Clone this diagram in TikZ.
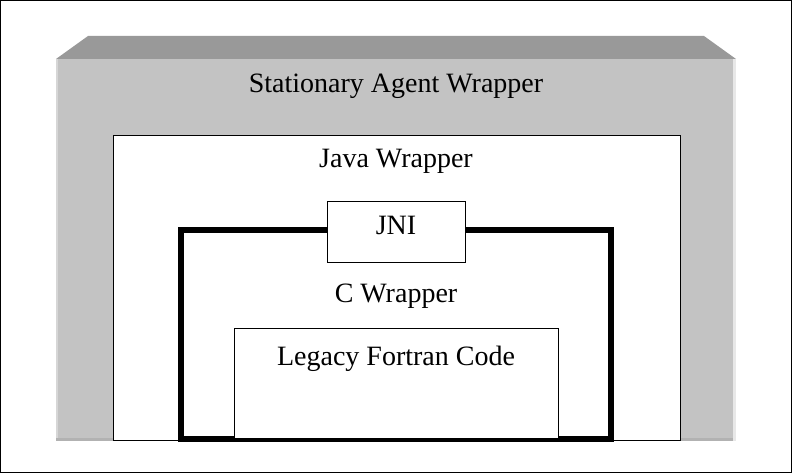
\documentclass[tikz,border=0pt]{standalone}
\usepackage{fontspec}
\setmainfont{Liberation Serif}
\begin{document}
\begin{tikzpicture}[x=1pt,y=-1pt,
  box/.style={draw=black,fill=white,line width=1pt,inner sep=0pt,outer sep=0pt},
  lbl/.style={anchor=base,inner sep=0pt,font=\fontsize{28}{30}\selectfont}]
\definecolor{front}{HTML}{C3C3C3}
\definecolor{topface}{HTML}{999999}
\useasboundingbox (0,0) rectangle (792,473);
\draw[line width=1pt] (0.5,0.5) rectangle (791.5,472.5);
% gray stationary agent wrapper
\fill[topface] (56,59) -- (88,36) -- (704,36) -- (736,59) -- cycle;
\node[fill=front,inner sep=0pt,outer sep=0pt,minimum width=680pt,minimum height=382pt] (saw) at (396,250) {};
\fill[color={rgb,255:red,214;green,214;blue,214}] (saw.north west) rectangle ([xshift=2pt]saw.south west);
\fill[color={rgb,255:red,232;green,232;blue,232}] ([xshift=-3pt]saw.north east) rectangle (saw.south east);
\fill[color={rgb,255:red,178;green,178;blue,178}] ([yshift=3pt]saw.south west) rectangle ([xshift=-3pt]saw.south east);
% java wrapper
\node[box,minimum width=567pt,minimum height=304pt] (java) at (396.5,288) {};
% C wrapper
\node[draw=black,line width=5.5pt,inner sep=0pt,outer sep=0pt,minimum width=430pt,minimum height=209pt] (cw) at (396,334.5) {};
% JNI
\node[box,minimum width=138pt,minimum height=60pt] (jni) at (396,232) {};
% Legacy
\node[box,minimum width=324pt,minimum height=110pt] (leg) at (396,383) {};
% labels
\node[lbl] (t1) at (396,93) {Stationary Agent Wrapper};
\node[lbl] (t2) at (396,168) {Java Wrapper};
\node[lbl] (t3) at (396,234) {JNI};
\node[lbl] (t4) at (396,302) {C Wrapper};
\node[lbl] (t5) at (396,365) {Legacy Fortran Code};
\end{tikzpicture}
\end{document}
